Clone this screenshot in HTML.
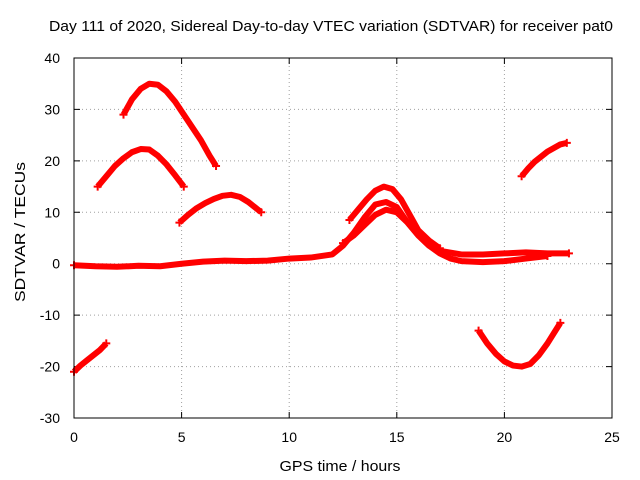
<!DOCTYPE html>
<html><head><meta charset="utf-8"><style>
body{margin:0;background:#fff}
svg{display:block;font-family:"Liberation Sans",sans-serif;font-size:14px}
</style></head><body>
<svg id="chart" width="640" height="480">
<rect width="640" height="480" fill="#fff"/>
<text x="331" y="31" text-anchor="middle" fill="#000" textLength="564" lengthAdjust="spacingAndGlyphs" style="font-size:15px">Day 111 of 2020, Sidereal Day-to-day VTEC variation (SDTVAR) for receiver pat0</text>
<text x="340" y="471" text-anchor="middle" textLength="121" lengthAdjust="spacingAndGlyphs" style="font-size:15px">GPS time / hours</text>
<text transform="translate(25,232) rotate(-90)" text-anchor="middle" textLength="140" lengthAdjust="spacingAndGlyphs" style="font-size:15px">SDTVAR / TECUs</text>
<g id="grid"></g>
<g id="ticks"></g>
<g id="series"></g>
<rect x="74" y="58" width="538" height="360" fill="none" stroke="#000" stroke-width="1"/>
</svg>
<script>
const xTicks=[0,5,10,15,20,25];
const yTicks=[-30,-20,-10,0,10,20,30,40];
const arc1X=[2.3,2.7,3.1,3.5,3.9,4.3,4.7,5.1,5.5,5.9,6.3,6.6];
const arc1Y=[29,32,34,35,34.8,33.5,31.5,29,26.5,24,21,19];
const arc2X=[1.1,1.5,1.9,2.3,2.7,3.1,3.5,3.9,4.3,4.7,5.1];
const arc2Y=[15,17,19,20.5,21.7,22.3,22.2,21,19.3,17.2,15];
const arc3X=[4.9,5.3,5.7,6.1,6.5,6.9,7.3,7.7,8.1,8.4,8.7];
const arc3Y=[8,9.5,10.8,11.8,12.6,13.2,13.4,13,12,11,10];
const arc4X=[20.8,21.1,21.4,21.7,22.0,22.3,22.6,22.9];
const arc4Y=[17,18.5,19.8,20.8,21.8,22.5,23.2,23.5];
const arc5X=[0,0.3,0.6,0.9,1.2,1.5];
const arc5Y=[-21,-19.8,-18.8,-17.8,-16.8,-15.5];
const arc6X=[18.8,19.2,19.6,20,20.4,20.8,21.2,21.6,22,22.3,22.6];
const arc6Y=[-13,-15.5,-17.5,-19,-19.8,-20,-19.5,-17.8,-15.5,-13.5,-11.5];
const baseX=[0,1,2,3,4,5,6,7,8,9,10,11,12,12.5,13,13.5,14,14.5,15,15.5,16,16.5,17,18,19,20,21,22,23];
const baseY=[-0.3,-0.5,-0.6,-0.4,-0.5,0,0.4,0.6,0.5,0.6,1,1.2,1.8,3.5,6,9,11.5,12,11,8,5.5,3.5,2.5,1.8,1.8,2,2.2,2,2];
const upperX=[12.8,13.2,13.6,14,14.4,14.8,15.2,15.6,16,16.5,17];
const upperY=[8.5,10.5,12.5,14.2,15,14.5,12.5,9.5,6.5,4.5,3];
const lowerX=[12.5,13,13.5,14,14.5,15,15.5,16,16.5,17,17.5,18,19,20,21,22];
const lowerY=[4,5.5,7.5,9.5,10.5,10,8,5.5,3.5,2,1,0.5,0.3,0.5,1,1.5];
const allSeries=[[arc1X,arc1Y],[arc2X,arc2Y],[arc3X,arc3Y],[arc4X,arc4Y],[arc5X,arc5Y],[arc6X,arc6Y],[baseX,baseY],[upperX,upperY],[lowerX,lowerY]];
const NS="http://www.w3.org/2000/svg";
function sx(v){return 74+v*538/25;}
function sy(v){return 418-(v+30)*360/70;}
const grid=document.getElementById('grid'),ticks=document.getElementById('ticks'),ser=document.getElementById('series');
function mk(tag,attrs,parent){const e=document.createElementNS(NS,tag);for(const k in attrs)e.setAttribute(k,attrs[k]);parent.appendChild(e);return e;}
xTicks.forEach(t=>{
  const gl=mk('line',{x1:sx(t),x2:sx(t),y1:58,y2:418,stroke:'#a0a0a0','stroke-dasharray':'1,3'},grid);
  
  
  const tm=mk('path',{d:`M${sx(t)},418v-6M${sx(t)},58v6`,stroke:'#000'},ticks);
  
  
  const tl=mk('text',{x:sx(t),y:442,'text-anchor':'middle'},ticks);
  tl.textContent=t;
  
  
});
yTicks.forEach(t=>{
  const gl=mk('line',{x1:74,x2:612,y1:sy(t),y2:sy(t),stroke:'#a0a0a0','stroke-dasharray':'1,3'},grid);
  
  
  const tm=mk('path',{d:`M74,${sy(t)}h6M612,${sy(t)}h-6`,stroke:'#000'},ticks);
  
  
  const tl=mk('text',{x:60,y:sy(t)+5,'text-anchor':'end'},ticks);
  tl.textContent=t;
  
  
});
allSeries.forEach(([xs,ys])=>{
  const pts=xs.map((x,i)=>sx(x)+','+sy(ys[i])).join(' ');
  const pl=mk('polyline',{points:pts,fill:'none',stroke:'#f00','stroke-width':6,'stroke-linejoin':'round'},ser);
  
  
  [0,xs.length-1].forEach(i=>{
    const m=mk('path',{d:`M${sx(xs[i])-4},${sy(ys[i])}h8M${sx(xs[i])},${sy(ys[i])-4}v8`,stroke:'#f00','stroke-width':2},ser);
    
    
  });
});
</script>
</body></html>
